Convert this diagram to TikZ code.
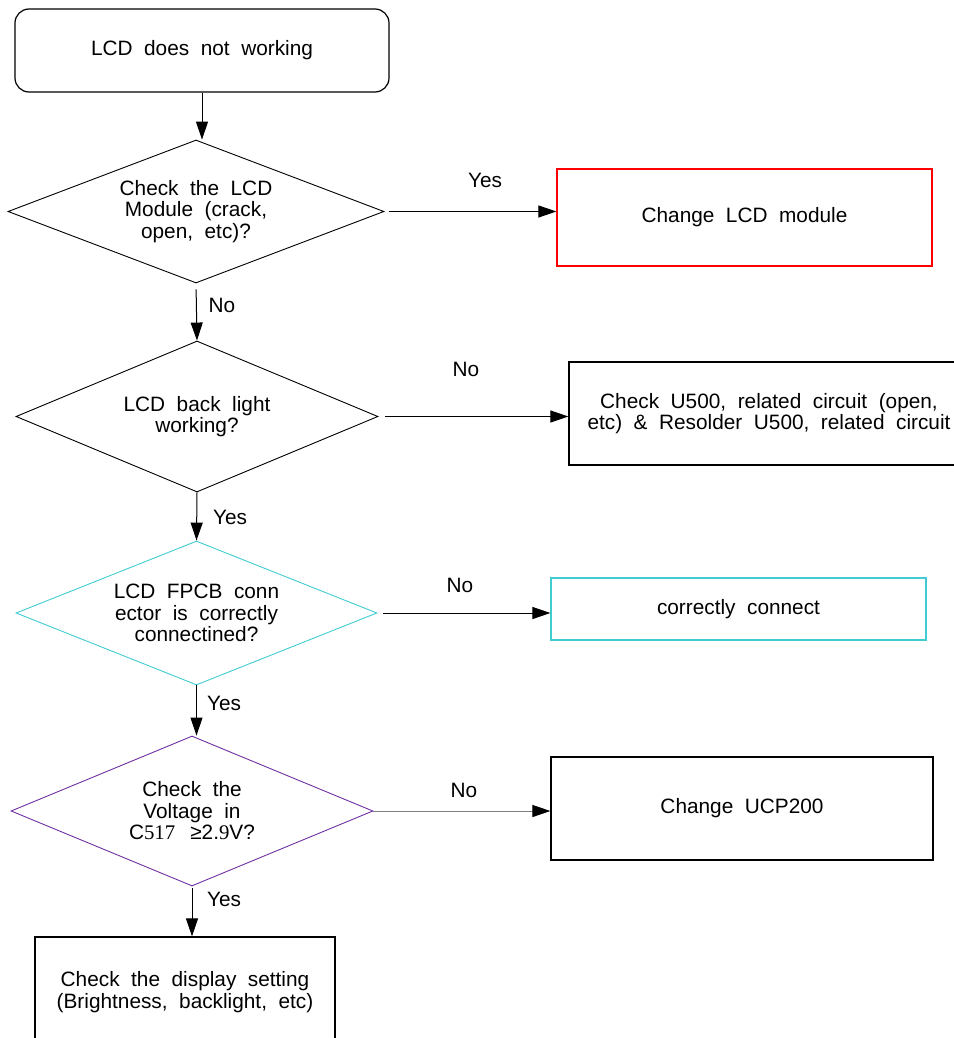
\documentclass[tikz,border=0pt]{standalone}
\usepackage{fontspec}
\setmainfont{Liberation Sans}[WordSpace=2.0]
\newfontfamily\serifnum{Liberation Serif}
\usetikzlibrary{shapes.geometric,arrows.meta}
\definecolor{lred}{rgb}{1,0,0}
\definecolor{lcyan}{rgb}{0.25,0.8,0.82}
\definecolor{lpurple}{rgb}{0.44,0.19,0.63}
\definecolor{lgray}{rgb}{0.5,0.5,0.5}
\tikzset{
  decision/.style={diamond,draw,line width=0.9pt,inner sep=0pt,shape aspect=2.5,align=center},
  actbox/.style={rectangle,draw,line width=1.2pt,inner sep=0pt,align=center},
  flow/.style={line width=1pt,-{Triangle[length=18pt,width=12pt,color=black]}},
  answer/.style={inner sep=0pt}
}

\begin{document}
\begin{tikzpicture}[x=1pt,y=-1pt,font=\fontsize{20.8}{21.5}\selectfont]
\useasboundingbox (0,0) rectangle (953,1038);
% main column
\node[actbox,rounded corners=14pt,minimum width=374pt,minimum height=83pt] (start) at (202,50.5) {LCD does not working};
\node[decision,minimum width=376pt,minimum height=143pt] (chk1) at (196,211.5) {Check the LCD\\Module (crack,\\open, etc)?};
\node[decision,minimum width=362pt,minimum height=151pt] (chk2) at (197,416.5) {LCD back light\\working?};
\node[decision,draw=lcyan,minimum width=361pt,minimum height=144pt] (chk3) at (196.5,613) {LCD FPCB conn\\ector is correctly\\connectined?};
\node[decision,draw=lpurple,minimum width=362pt,minimum height=150pt] (chk4) at (192,811) {Check the\\Voltage in\\C{\serifnum 517} \,≥2.{\serifnum 9}V?};
\node[actbox,minimum width=300pt,minimum height=110pt] (disp) at (185,992) {Check the display setting\\(Brightness, backlight, etc)};
% right column
\node[actbox,draw=lred,minimum width=375pt,minimum height=97pt] (lcdmod) at (744.5,217.5) {Change LCD module};
\node[actbox,minimum width=400pt,minimum height=103pt] (u500) at (769,413.5) {Check U500, related circuit (open,\\etc) \& Resolder U500, related circuit};
\node[actbox,draw=lcyan,minimum width=375pt,minimum height=62pt] (conn) at (738.5,609) {correctly connect};
\node[actbox,minimum width=382pt,minimum height=103pt] (ucp) at (742,808.5) {Change UCP200};
% connectors
\draw[flow] (start.south) -- (start.south |- chk1.north);
\draw[flow,shorten <=6pt] (chk1.south) -- (chk2.north);
\draw[flow] (chk2.south) -- (chk3.north);
\draw[flow] (chk3.south) -- (chk3.south |- chk4.north);
\draw[flow,shorten <=2pt] (chk4.south) -- (chk4.south |- disp.north);
\draw[flow,shorten <=5pt] (chk1.east) -- (chk1.east -| lcdmod.west);
\draw[flow,shorten <=7pt] (chk2.east) -- (chk2.east -| u500.west);
\draw[flow,shorten <=6pt] (chk3.east) -- (chk3.east -| conn.west);
\draw[flow,lgray] (chk4.east) -- (chk4.east -| ucp.west);
% answers
\node[answer] (y1) at (485,180) {Yes};
\node[answer] (n1) at (222,305) {No};
\node[answer] (n2) at (466,369) {No};
\node[answer] (y2) at (230,517) {Yes};
\node[answer] (n3) at (460,585) {No};
\node[answer] (y3) at (224,703) {Yes};
\node[answer] (n4) at (464,790) {No};
\node[answer] (y4) at (224,899) {Yes};
\end{tikzpicture}
\end{document}
